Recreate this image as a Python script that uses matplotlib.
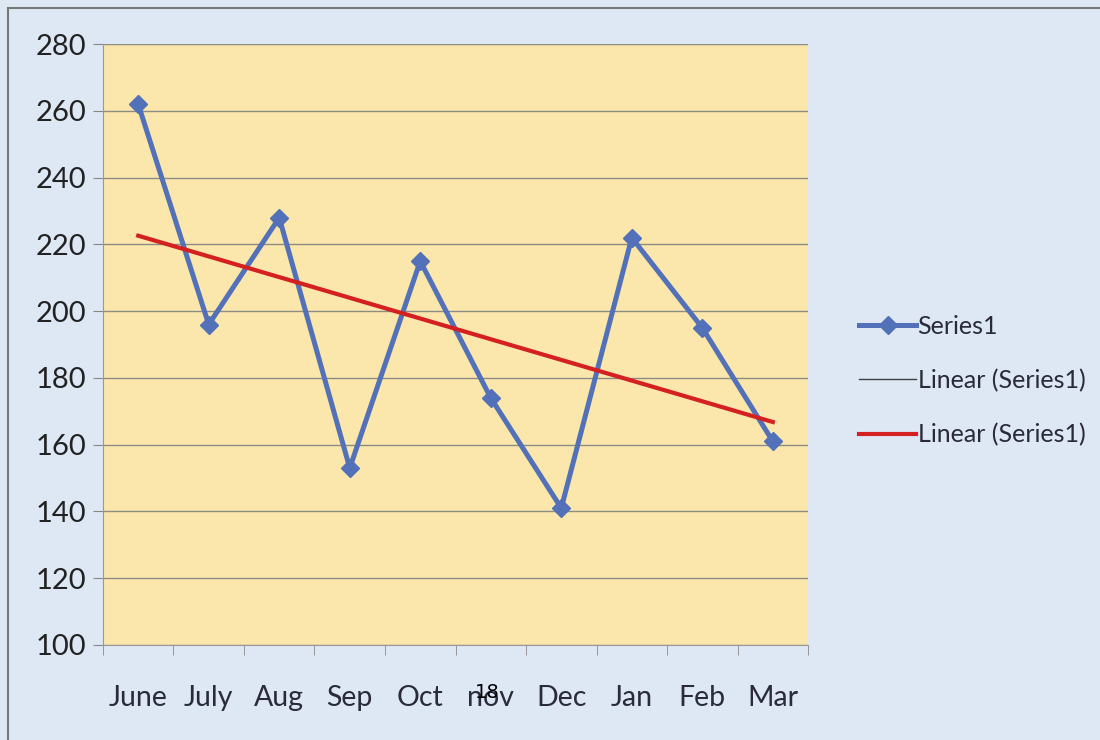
import numpy as np
import matplotlib.pyplot as plt
from matplotlib.patches import Rectangle

months = ['June', 'July', 'Aug', 'Sep', 'Oct', 'nov', 'Dec', 'Jan', 'Feb', 'Mar']
values = [262, 196, 228, 153, 215, 174, 141, 222, 195, 161]
yticks = [100, 120, 140, 160, 180, 200, 220, 240, 260, 280]

plt.rcParams['font.family'] = ['Lato', 'DejaVu Sans']

fig = plt.figure(figsize=(11, 7.4), dpi=100)
fig.patch.set_facecolor('#dde8f4')
ax = fig.add_axes([0.0936, 0.1284, 0.641, 0.812])
ax.set_facecolor('#fbe6ac')

x = np.arange(len(months))
# excel style linear trendline
slope, icept = np.polyfit(x, values, 1)
trend = slope * x + icept

ax.plot(x, values, color='#5271b8', lw=3.6, marker='D', ms=9,
        label='Series1', zorder=3)
ax.plot([], [], color='#404040', lw=1, label='Linear (Series1)')
ax.plot(x, trend, color='#d42020', lw=3, label='Linear (Series1)', zorder=4)

ax.set_xlim(-0.5, len(months) - 0.5)
ax.set_ylim(100, 280)
ax.set_yticks(yticks)
ax.set_xticks(x)
ax.set_xticklabels(months)
ax.set_xticks(np.arange(-0.5, len(months)), minor=True)
ax.tick_params(axis='x', which='major', length=0, pad=29, labelsize=20.5, colors='#2a2a3a')
ax.tick_params(axis='x', which='minor', length=7, color='#888888')
ax.tick_params(axis='y', length=7, color='#888888', labelsize=21, pad=5, labelcolor='#222222')
ax.grid(axis='y', color='#8c8c84', lw=1)
for s in ['top', 'right']:
    ax.spines[s].set_visible(False)
ax.spines['left'].set_color('#999999')
ax.spines['bottom'].set_color('#999999')

leg = ax.legend(loc='center left', bbox_to_anchor=(1.04, 0.44), frameon=False,
                fontsize=18, handlelength=2.3, handletextpad=0.05, labelspacing=1.25,
                labelcolor='#2a2a3a')

# page number overlapping the label
fig.text(0.443, 0.064, '18', fontsize=14, family='DejaVu Sans', ha='center', va='center')

fig.patches.append(Rectangle((0.007, -0.1), 1.1, 1.089, transform=fig.transFigure,
                             fill=False, edgecolor='#777777', lw=1.5))

fig.savefig('out.png', dpi=100, facecolor=fig.get_facecolor())
